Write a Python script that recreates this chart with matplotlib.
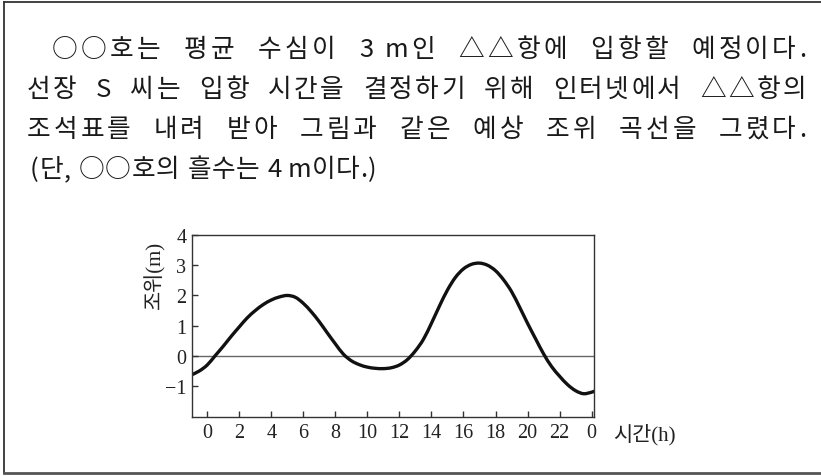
import numpy as np
import matplotlib
matplotlib.use("Agg")
import matplotlib.pyplot as plt
from matplotlib.path import Path
from matplotlib.patches import PathPatch

# tide curve (hour, metres)
hours = [-1.0, -0.5, 0.0, 0.5, 1.0, 1.5, 2.0, 2.5, 3.0, 3.5, 4.0, 4.5, 5.0,
         5.5, 6.0, 6.5, 7.0, 7.5, 8.0, 8.5, 9.0, 9.5, 10.0, 10.5, 11.0,
         11.5, 12.0, 12.5, 13.0, 13.5, 14.0, 14.5, 15.0, 15.5, 16.0, 16.5,
         17.0, 17.5, 18.0, 18.5, 19.0, 19.5, 20.0, 20.5, 21.0, 21.5, 22.0,
         22.5, 23.0, 23.5, 24.0, 24.2]
tide = [-0.63, -0.50, -0.30, 0.01, 0.32, 0.65, 0.96, 1.26, 1.50, 1.70, 1.85,
        1.95, 2.00, 1.94, 1.74, 1.46, 1.13, 0.76, 0.40, 0.06, -0.16, -0.29,
        -0.37, -0.41, -0.42, -0.39, -0.30, -0.12, 0.17, 0.55, 1.08, 1.65,
        2.18, 2.60, 2.88, 3.03, 3.07, 3.00, 2.82, 2.52, 2.13, 1.62, 1.08,
        0.57, 0.07, -0.35, -0.67, -0.95, -1.15, -1.25, -1.20, -1.16]

xticks = [0, 2, 4, 6, 8, 10, 12, 14, 16, 18, 20, 22, 24]
xticklabels = ["0", "2", "4", "6", "8", "10", "12", "14", "16", "18", "20", "22", "0"]
yticks = [-1, 0, 1, 2, 3, 4]
yticklabels = ["\u22121", "0", "1", "2", "3", "4"]

lines = [
    ["○○호는", "평균", "수심이", "3 m인", "△△항에", "입항할", "예정이다."],
    ["선장", "S", "씨는", "입항", "시간을", "결정하기", "위해", "인터넷에서", "△△항의"],
    ["조석표를", "내려", "받아", "그림과", "같은", "예상", "조위", "곡선을", "그렸다."],
    ["(단,", "○○호의", "흘수는", "4 m이다.)"],
]


def smooth_path(xs, ys):
    '''Catmull-Rom through the read points, drawn as cubic beziers'''
    p = np.column_stack([xs, ys])
    verts = [p[0]]
    codes = [Path.MOVETO]
    for i in range(len(p) - 1):
        p0 = p[i - 1] if i > 0 else p[i]
        p3 = p[i + 2] if i + 2 < len(p) else p[i + 1]
        verts += [p[i] + (p[i + 1] - p0) / 6, p[i + 1] - (p3 - p[i]) / 6, p[i + 1]]
        codes += [Path.CURVE4] * 3
    return Path(verts, codes)


W, H = 821, 477
fig = plt.figure(figsize=(W / 100, H / 100), dpi=100)

# overlay in pixel coordinates for the frame and the question text
bg = fig.add_axes([0, 0, 1, 1])
bg.set_xlim(0, W)
bg.set_ylim(H, 0)
bg.axis("off")
bg.plot([3.5, 3.5], [3, 474], color="#333333", lw=1.3)
bg.plot([3.5, W], [3, 3], color="#333333", lw=1.3)
bg.plot([3.5, W], [474, 474], color="#555555", lw=2.0)

fsize = 18.5
kfont = dict(family="Noto Sans CJK KR", fontsize=fsize, color="#1a1a1a")
em = fsize * 100 / 72
starts = [52, 27, 27, 30]
baselines = [57, 97, 137, 177]
right_edge = 806
char_gap = 0.6    # natural gap between glyphs
word_gap = 8.0    # natural gap between words
word_weight = 6   # word gaps take this many shares of the justification
r = fig.canvas.get_renderer()

for i, words in enumerate(lines):
    # glyphs of the line, each with its ink width and the gap kind before it
    items = []
    for wi, word in enumerate(words):
        for ci, c in enumerate(word):
            kind = None if (wi == 0 and ci == 0) else ("w" if ci == 0 else "c")
            if c == " ":
                items.append((None, 0.18 * em, kind))
                continue
            t = bg.text(0, baselines[i], c, va="baseline", ha="left", **kfont)
            items.append((t, t.get_window_extent(r).width, kind))
    natural = sum(w for _, w, _ in items)
    natural += sum(char_gap if k == "c" else word_gap for _, _, k in items if k)
    n_c = sum(1 for _, _, k in items if k == "c")
    n_w = sum(1 for _, _, k in items if k == "w")
    extra = 0.0
    if i < 3:
        extra = (right_edge - starts[i] - natural) / (n_c + word_weight * n_w)
    x = starts[i]
    for t, w, k in items:
        if k == "c":
            x += char_gap + extra
        elif k == "w":
            x += word_gap + word_weight * extra
        if t is not None:
            t.set_x(x)
        x += w

# the tide chart
ax = fig.add_axes([192 / W, (H - 418) / H, (594 - 192) / W, (418 - 236) / H])
ax.axhline(0, color="#666666", lw=1.0, zorder=1)
ax.add_patch(PathPatch(smooth_path(hours, tide), fill=False, edgecolor="#111111",
                       lw=2.4, zorder=2))
ax.set_xlim(-0.95, 24.15)
ax.set_ylim(-2.02, 4.0)
ax.set_xticks(xticks)
ax.set_xticklabels(xticklabels)
ax.set_yticks(yticks)
ax.set_yticklabels(yticklabels)
for s in ax.spines.values():
    s.set_color("#333333")
    s.set_linewidth(1.0)
ax.tick_params(direction="in", length=4, width=1, color="#333333",
               labelsize=14.5, labelcolor="#222222", pad=4)
for lab in ax.get_xticklabels() + ax.get_yticklabels():
    lab.set_family("Liberation Serif")

lfont = dict(family=["Liberation Serif", "Noto Sans CJK KR"], fontsize=15, color="#222222")
ax.set_ylabel("조위(m)", **lfont)
ax.yaxis.set_label_coords((155 - 192) / 402, (418 - 275) / 182)
ax.yaxis.label.set_va("center")
ax.set_xlabel("시간(h)", **lfont)
ax.xaxis.set_label_coords((644 - 192) / 402, -(435 - 418) / 182)
ax.xaxis.label.set_va("center")

fig.savefig("out.png", dpi=100)
